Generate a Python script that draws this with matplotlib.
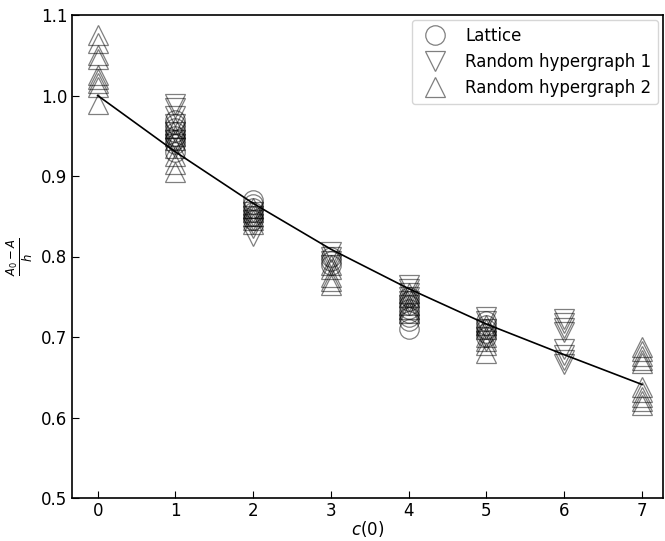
import matplotlib
matplotlib.use("Agg")
import matplotlib.pyplot as plt
import numpy as np

# Mean-field curve
curve_x = [0, 1, 2, 3, 4, 5, 6, 7]
curve_y = [1.0, 0.930, 0.866, 0.809, 0.760, 0.716, 0.678, 0.641]

# Lattice (circles)
lat_x = [1]*8 + [2]*6 + [3]*3 + [4]*8 + [5]*5
lat_y = [0.93, 0.94, 0.945, 0.95, 0.955, 0.96, 0.965, 0.97,
         0.87, 0.865, 0.86, 0.855, 0.85, 0.845,
         0.79, 0.795, 0.80,
         0.71, 0.72, 0.725, 0.73, 0.735, 0.74, 0.745, 0.75,
         0.70, 0.705, 0.71, 0.715, 0.72]

# Random hypergraph 1 (down triangles)
rh1_x = [1]*8 + [2]*6 + [3]*4 + [4]*6 + [5]*5 + [6]*8
rh1_y = [0.99, 0.985, 0.975, 0.965, 0.955, 0.945, 0.94, 0.935,
         0.825, 0.835, 0.84, 0.845, 0.85, 0.855,
         0.805, 0.80, 0.795, 0.79,
         0.765, 0.76, 0.755, 0.75, 0.745, 0.74,
         0.725, 0.72, 0.71, 0.70, 0.695,
         0.722, 0.717, 0.711, 0.706, 0.685, 0.678, 0.672, 0.666]

# Random hypergraph 2 (up triangles)
rh2_x = [0]*9 + [1]*7 + [2]*5 + [3]*5 + [4]*5 + [5]*6 + [7]*10
rh2_y = [1.075, 1.065, 1.05, 1.045, 1.025, 1.02, 1.015, 1.01, 0.99,
         0.905, 0.915, 0.925, 0.935, 0.945, 0.95, 0.96,
         0.84, 0.845, 0.85, 0.855, 0.86,
         0.765, 0.77, 0.775, 0.785, 0.79,
         0.73, 0.735, 0.74, 0.75, 0.755,
         0.68, 0.69, 0.695, 0.70, 0.71, 0.715,
         0.688, 0.683, 0.677, 0.672, 0.668, 0.638, 0.632, 0.626, 0.62, 0.615]

fig = plt.figure(figsize=(6.65, 5.41), dpi=100)
ax = fig.add_axes([72/665, 1-498/541, (663-72)/665, (498-15)/541])

ms = 14
common = dict(linestyle='none', markerfacecolor='none', markeredgecolor='k',
              markeredgewidth=0.9, alpha=0.5, markersize=ms)
ax.plot(lat_x, lat_y, marker='o', label='Lattice', **common)
ax.plot(rh1_x, rh1_y, marker='v', label='Random hypergraph 1', **common)
ax.plot(rh2_x, rh2_y, marker='^', label='Random hypergraph 2', **common)
ax.plot(curve_x, curve_y, color='k', lw=1.2)

ax.set_xlim(-0.33, 7.27)
ax.set_ylim(0.5, 1.1)
ax.set_xticks(range(8))
ax.set_yticks([0.5, 0.6, 0.7, 0.8, 0.9, 1.0, 1.1])
ax.tick_params(direction='in', labelsize=12, length=5)
ax.tick_params(axis='x', pad=3)
ax.set_xlabel('$c(0)$', fontsize=12, labelpad=-1)
ax.set_ylabel(r'$\frac{A_0-A}{h}$', fontsize=12)
for s in ax.spines.values():
    s.set_linewidth(1.2)
ax.legend(loc='upper right', fontsize=12, handletextpad=0.8, borderaxespad=0.3)

fig.savefig('out.png', dpi=100)
